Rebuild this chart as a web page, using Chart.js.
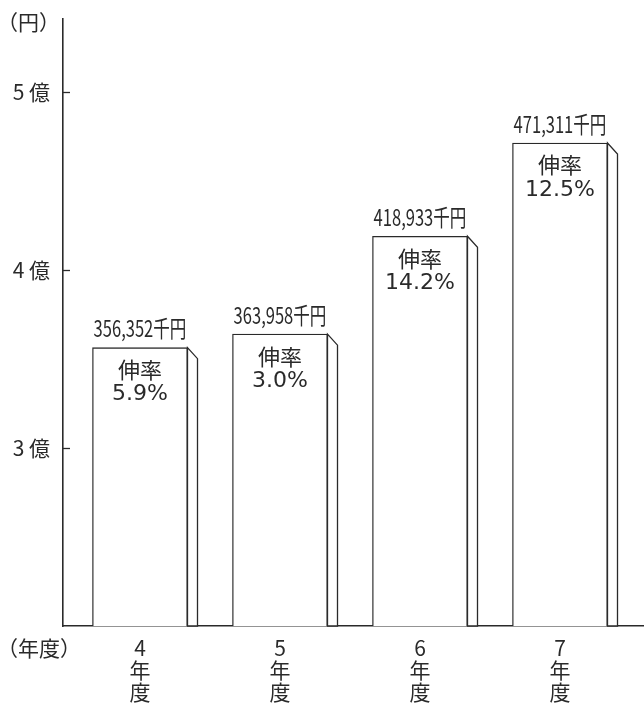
<!DOCTYPE html>
<html lang="ja">
<head>
<meta charset="utf-8">
<title>売上推移</title>
<script src="https://cdn.jsdelivr.net/npm/chart.js@4.4.1/dist/chart.umd.min.js"></script>
<style>
  html, body { margin: 0; padding: 0; background: #fff; }
  #wrap { width: 644px; height: 709px; position: relative; }
</style>
</head>
<body>
<div id="wrap"><canvas id="salesChart"></canvas></div>
<script>
// ---------------- Daten ----------------
const years      = [4, 5, 6, 7];                         // 年度
const amounts    = [356352, 363958, 418933, 471311];     // 千円
const growth     = ["5.9%", "3.0%", "14.2%", "12.5%"];   // 伸率
const yTicks     = [300000, 400000, 500000];             // 3億, 4億, 5億

const INK = "#2a2a2a";
const JP  = "'Noto Sans CJK JP', 'Noto Sans', sans-serif";

// ---------------- Plugin: Seitenfläche + Beschriftung ----------------
const barDecor = {
    id: "barDecor",
    afterDatasetsDraw(chart) {
        const ctx = chart.ctx;
        const meta = chart.getDatasetMeta(0);
        const dx = 10, dy = 11;

        meta.data.forEach((bar, i) => {
            const right = bar.x + bar.width / 2;

            // Seitenfläche (pseudo 3D)
            ctx.save();
            ctx.beginPath();
            ctx.moveTo(right, bar.y);
            ctx.lineTo(right + dx, bar.y + dy);
            ctx.lineTo(right + dx, bar.base);
            ctx.lineTo(right, bar.base);
            ctx.closePath();
            ctx.fillStyle = "#fff";
            ctx.fill();
            ctx.strokeStyle = INK;
            ctx.lineWidth = 1.3;
            ctx.stroke();
            ctx.restore();

            // Betrag über dem Balken (schmal)
            ctx.save();
            ctx.fillStyle = INK;
            ctx.font = "23px " + JP;
            ctx.textAlign = "center";
            ctx.textBaseline = "middle";
            ctx.translate(bar.x, bar.y - 19);
            ctx.scale(0.72, 1);
            ctx.fillText(amounts[i].toLocaleString("en-US") + "千円", 0, 0);
            ctx.restore();

            // 伸率 im Balken
            ctx.save();
            ctx.fillStyle = INK;
            ctx.textAlign = "center";
            ctx.textBaseline = "middle";
            ctx.font = "22px " + JP;
            ctx.fillText("伸率", bar.x, bar.y + 22);
            ctx.font = "22px 'DejaVu Sans', sans-serif";
            ctx.fillText(growth[i], bar.x, bar.y + 47);
            ctx.restore();
        });
    },
    afterDraw(chart) {
        const ctx = chart.ctx;
        const area = chart.chartArea;
        const y = chart.scales.y;

        // Teilstriche nach innen
        ctx.save();
        ctx.strokeStyle = INK;
        ctx.lineWidth = 1.3;
        yTicks.forEach(v => {
            const py = Math.round(y.getPixelForValue(v)) + 0.5;
            ctx.beginPath();
            ctx.moveTo(area.left, py);
            ctx.lineTo(area.left + 7, py);
            ctx.stroke();
        });

        // Achsentitel
        ctx.fillStyle = INK;
        ctx.font = "21px " + JP;
        ctx.textAlign = "left";
        ctx.textBaseline = "middle";
        ctx.fillText("（円）", -3, 22);
        ctx.fillText("（年度）", -3, 648);
        ctx.restore();
    }
};

// ---------------- Diagramm ----------------
new Chart(document.getElementById("salesChart"), {
    type: "bar",
    data: {
        datasets: [{
            data: amounts.map((v, i) => ({ x: i + 1, y: v })),
            base: 200000,
            backgroundColor: "#fff",
            borderColor: INK,
            borderWidth: 1.3,
            borderSkipped: "bottom",
            barThickness: 95
        }]
    },
    options: {
        responsive: true,
        maintainAspectRatio: false,
        animation: false,
        layout: { padding: { top: 19, right: 0, left: 0, bottom: 0 } },
        plugins: {
            legend: { display: false },
            tooltip: { enabled: false }
        },
        scales: {
            x: {
                type: "linear",
                offset: false,
                min: 0.45,
                max: 4.6,
                afterBuildTicks: s => { s.ticks = years.map((_, i) => ({ value: i + 1 })); },
                afterFit: s => { s.height = 83; s.paddingLeft = 0; s.paddingRight = 0; },
                grid: { display: false, drawTicks: false, offset: false },
                border: { display: true, color: INK, width: 1.6 },
                ticks: {
                    padding: 11,
                    color: INK,
                    font: { family: JP, size: 21, lineHeight: 1.05 },
                    maxRotation: 0,
                    autoSkip: false,
                    callback: v => [String(years[v - 1]), "年", "度"]
                }
            },
            y: {
                min: 200000,
                max: 541000,
                afterBuildTicks: s => { s.ticks = yTicks.map(v => ({ value: v })); },
                afterFit: s => { s.width = 63; s.paddingTop = 0; s.paddingBottom = 0; },
                grid: { display: false, drawTicks: false },
                border: { display: true, color: INK, width: 1.6 },
                ticks: {
                    padding: 13,
                    color: INK,
                    font: { family: JP, size: 21 },
                    callback: v => (v / 100000) + " 億"
                }
            }
        }
    },
    plugins: [barDecor]
});
</script>
</body>
</html>
